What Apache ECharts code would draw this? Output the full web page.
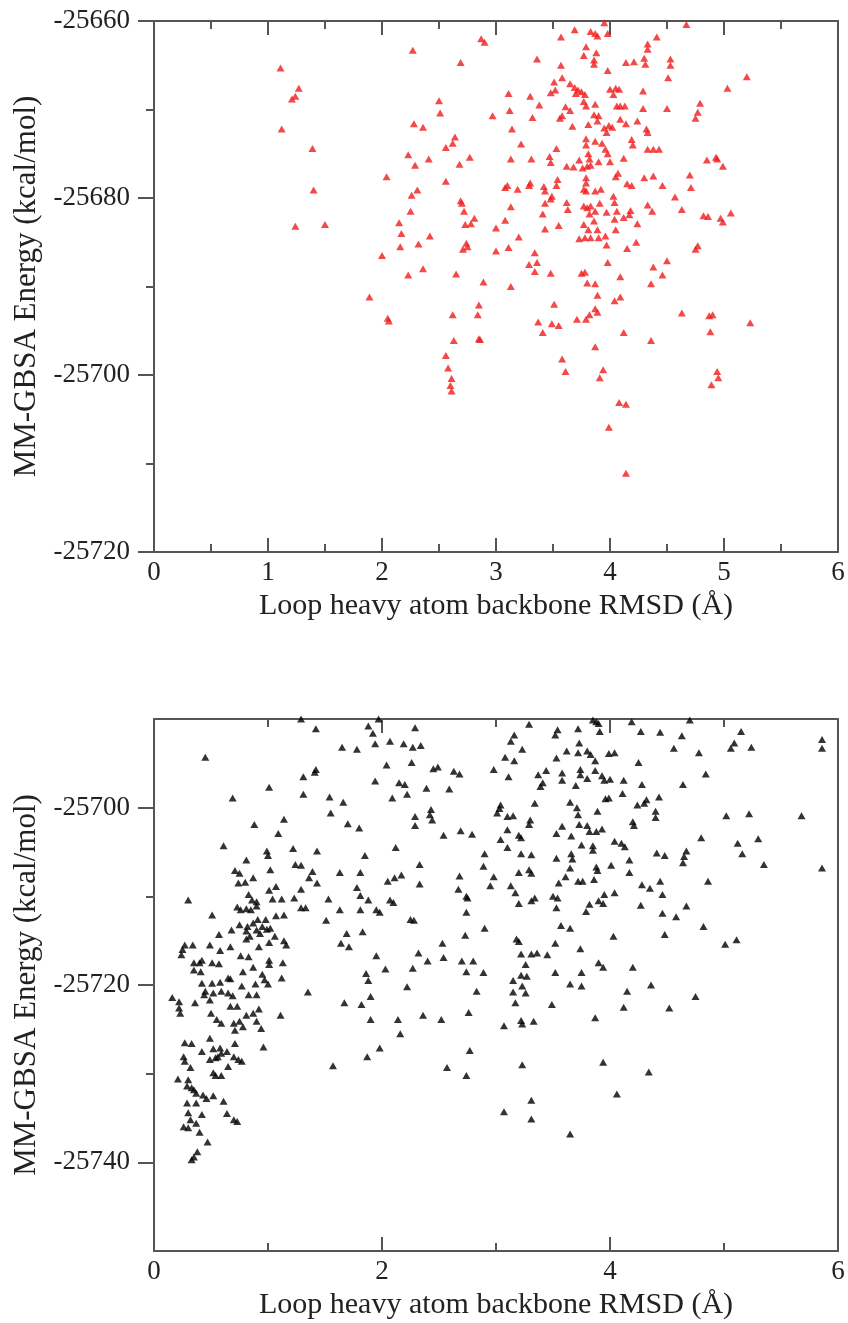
<!DOCTYPE html>
<html>
<head>
<meta charset="utf-8">
<script src="https://cdn.jsdelivr.net/npm/echarts@6/dist/echarts.min.js"></script>
<style>
html,body{margin:0;padding:0;background:#fff;}
#chart{width:848px;height:1323px;}
</style>
</head>
<body>
<div id="chart"></div>
<script>
var xTitle = 'Loop heavy atom backbone RMSD (Å)';
var yTitle = 'MM-GBSA Energy (kcal/mol)';

var topXMajor = [0, 1, 2, 3, 4, 5, 6];
var topYMajor = [-25720, -25700, -25680, -25660];
var bottomXMajor = [0, 2, 4, 6];
var bottomYMajor = [-25740, -25720, -25700];
var bottomYMinor = [-25730, -25710];

var topData = [
[1.11,-25665.3],[1.27,-25667.6],[1.24,-25668.5],[1.21,-25668.8],[1.12,-25672.2],[1.39,-25674.4],[1.40,-25679.1],[1.24,-25683.2],[1.50,-25683.0],
[2.27,-25663.3],[2.28,-25671.6],[2.36,-25672.0],[2.23,-25675.1],[2.29,-25676.3],[2.04,-25677.6],[2.31,-25679.1],[2.26,-25679.7],[2.25,-25681.5],[2.15,-25682.8],[2.17,-25684.0],[2.16,-25685.5],[2.32,-25685.2],[2.00,-25686.5],[2.36,-25688.0],[2.23,-25688.7],[1.89,-25691.2],[2.05,-25693.6],[2.06,-25693.9],
[3.95,-25660.2],[4.67,-25660.4],[3.69,-25661.0],[3.83,-25661.2],[3.87,-25661.4],[3.89,-25661.7],[3.98,-25661.4],[4.41,-25661.8],[3.57,-25661.8],[2.87,-25662.0],[2.90,-25662.4],[3.79,-25662.9],[4.33,-25662.6],[4.33,-25663.2],
[3.77,-25663.9],[3.88,-25663.6],[3.86,-25664.4],[3.86,-25664.9],[3.36,-25664.3],[3.57,-25665.0],[2.69,-25664.7],[4.14,-25664.7],[4.21,-25664.6],[4.30,-25664.2],[4.31,-25664.9],[4.53,-25664.3],[4.53,-25665.0],
[3.98,-25665.6],[3.58,-25666.4],[4.51,-25666.4],[5.20,-25666.3],
[3.51,-25666.9],[3.48,-25668.1],[3.52,-25667.8],[3.65,-25667.1],[3.69,-25667.5],[3.72,-25667.8],[3.75,-25668.0],[3.78,-25668.3],[3.70,-25668.2],
[4.00,-25667.7],[4.05,-25667.6],[4.08,-25667.7],[4.03,-25668.3],[4.29,-25667.9],[5.03,-25667.6],[3.11,-25668.2],[3.30,-25668.5],[2.50,-25669.0],[2.51,-25670.4],
[3.77,-25669.1],[3.79,-25669.6],[3.87,-25669.4],[3.61,-25669.7],[3.65,-25670.1],[4.06,-25669.6],[4.09,-25669.6],[4.13,-25669.6],[4.29,-25669.9],[4.50,-25669.9],[4.79,-25669.3],[4.77,-25670.3],[3.38,-25669.5],
[2.97,-25670.7],[3.12,-25670.1],[3.32,-25670.9],[3.56,-25671.0],[3.58,-25670.7],[3.86,-25670.6],[3.90,-25670.7],[3.89,-25671.3],[4.09,-25671.1],[4.24,-25671.3],[4.75,-25671.0],
[3.14,-25672.2],[3.67,-25671.9],[3.81,-25671.7],[3.95,-25672.1],[3.99,-25671.8],[4.02,-25672.0],[3.97,-25672.6],[4.14,-25671.6],[4.32,-25672.2],[4.33,-25672.6],
[2.64,-25673.1],[2.62,-25673.8],[2.56,-25674.3],[3.22,-25673.9],[3.53,-25674.4],[3.79,-25673.3],[3.79,-25674.0],[3.87,-25673.6],[3.93,-25673.8],[3.96,-25674.5],[4.19,-25673.4],[4.20,-25674.0],[4.33,-25674.5],[4.38,-25674.5],[4.43,-25674.5],
[2.41,-25675.6],[2.68,-25676.2],[2.77,-25675.4],[3.13,-25675.6],[3.31,-25675.6],[3.47,-25675.3],[3.48,-25676.0],[3.81,-25675.0],[3.82,-25675.6],[3.73,-25675.7],[3.90,-25675.9],[3.98,-25675.0],[4.00,-25675.9],[4.12,-25675.5],[3.62,-25676.4],[3.68,-25676.5],[3.76,-25676.6],[3.80,-25676.4],[3.83,-25676.3],[4.85,-25675.7],[4.93,-25675.4],[4.94,-25675.6],[4.99,-25676.4],
[2.56,-25678.1],[4.05,-25677.6],[4.07,-25677.2],[3.79,-25677.7],[3.79,-25678.3],[4.15,-25678.4],[4.19,-25678.6],[4.30,-25677.7],[4.38,-25677.5],[4.46,-25678.6],[4.70,-25677.4],[4.71,-25678.8],[3.08,-25678.8],[3.10,-25678.6],[3.19,-25679.0],[3.29,-25678.6],[3.30,-25678.3],[3.42,-25678.7],[3.43,-25679.2],[3.53,-25678.6],[3.54,-25677.9],[3.77,-25679.0],[3.79,-25679.2],[3.87,-25679.2],[3.92,-25679.0],
[2.69,-25680.3],[2.70,-25680.6],[2.72,-25681.5],[3.13,-25681.0],[3.49,-25679.8],[3.48,-25680.1],[3.43,-25680.6],[3.41,-25681.8],[3.62,-25680.5],[3.63,-25681.3],[3.77,-25680.9],[3.80,-25681.1],[3.83,-25680.9],[3.87,-25681.5],[3.82,-25681.8],[3.91,-25680.6],[3.97,-25681.6],[4.03,-25679.8],[4.04,-25680.5],[4.06,-25681.5],[4.18,-25681.4],[4.17,-25681.9],[4.12,-25682.2],[4.33,-25680.8],[4.37,-25681.5],[4.57,-25679.9],[4.63,-25681.3],
[2.81,-25682.3],[2.73,-25683.0],[2.78,-25682.9],[3.08,-25682.5],[3.00,-25683.4],[3.43,-25683.5],[3.55,-25683.1],[3.77,-25683.0],[3.86,-25682.6],[3.81,-25683.6],[3.89,-25683.6],[4.04,-25682.4],[4.05,-25683.6],[4.24,-25682.9],[4.82,-25682.0],[4.86,-25682.1],[4.97,-25682.3],[4.99,-25682.7],[5.06,-25681.7],
[2.42,-25684.3],[3.20,-25684.4],[3.73,-25684.6],[3.78,-25684.5],[3.83,-25684.5],[3.90,-25684.5],[3.96,-25684.3],[3.97,-25685.3],[4.15,-25685.7],[4.23,-25685.0],[2.71,-25685.8],[2.75,-25685.5],[2.74,-25685.1],[3.00,-25686.0],[3.11,-25685.6],[3.34,-25686.2],[4.77,-25685.4],[4.75,-25685.8],
[3.29,-25687.5],[3.36,-25687.3],[3.34,-25688.3],[3.48,-25688.5],[2.65,-25688.6],[3.75,-25688.5],[3.78,-25688.4],[3.98,-25687.3],[4.09,-25688.9],[4.38,-25687.8],[4.50,-25687.1],[4.46,-25688.7],
[2.89,-25689.5],[3.13,-25690.0],[3.80,-25689.6],[3.87,-25689.7],[4.36,-25689.7],[3.89,-25691.0],
[2.85,-25692.1],[2.84,-25693.2],[2.62,-25693.2],[3.51,-25692.0],[4.04,-25691.6],[4.09,-25691.2],[3.87,-25692.5],[3.89,-25692.9],[3.82,-25693.2],[3.79,-25693.7],[3.71,-25693.7],[3.37,-25694.0],[3.49,-25694.2],[3.55,-25694.4],[4.63,-25693.0],[4.87,-25693.3],[4.90,-25693.2],[5.23,-25694.1],
[2.63,-25696.1],[2.85,-25695.9],[2.86,-25696.0],[3.41,-25695.2],[4.12,-25695.2],[4.36,-25696.1],[4.88,-25695.1],[3.87,-25696.8],[2.56,-25697.8],[2.58,-25699.2],[2.61,-25700.4],[2.60,-25701.2],[2.61,-25701.8],[3.58,-25698.2],[3.61,-25699.6],[3.94,-25699.4],[3.91,-25700.3],[4.94,-25699.6],[4.95,-25700.3],[4.89,-25701.1],[4.08,-25703.1],[4.14,-25703.3],[3.99,-25705.9],[4.14,-25711.1]
];

var bottomData = [
[1.29,-25690.0],[1.42,-25691.1],[1.88,-25690.8],[1.92,-25691.6],[1.97,-25690.0],[2.29,-25691.0],
[2.07,-25692.5],[1.94,-25692.8],[1.65,-25693.2],[1.78,-25693.4],[2.19,-25692.8],[2.27,-25693.2],[2.34,-25693.0],[0.45,-25694.3],
[2.04,-25695.2],[2.26,-25694.9],[1.42,-25695.7],[1.41,-25696.0],[1.31,-25696.5],[1.94,-25697.0],[2.15,-25697.2],[2.20,-25697.4],
[1.01,-25697.7],[0.69,-25698.9],[1.31,-25698.5],[1.54,-25698.8],[1.66,-25699.4],[2.09,-25698.9],[2.22,-25698.5],
[1.55,-25700.6],[2.29,-25701.0],[2.29,-25702.0],[0.88,-25701.9],[1.14,-25701.3],[1.70,-25701.8],[1.80,-25702.3],[1.09,-25702.9],
[0.61,-25704.3],[0.99,-25704.9],[1.00,-25705.4],[1.22,-25704.6],[1.43,-25704.9],[1.85,-25705.4],[2.12,-25704.5],[0.81,-25705.9],
[1.24,-25706.4],[1.29,-25706.5],[2.33,-25706.4],[0.71,-25707.1],[0.75,-25707.4],[1.02,-25707.0],[1.39,-25707.2],[1.63,-25707.3],[1.81,-25707.3],[0.74,-25708.5],[0.80,-25708.4],[0.87,-25707.9],[1.36,-25707.9],[1.43,-25708.5],[2.05,-25708.3],[2.11,-25707.9],[2.17,-25707.6],[2.33,-25708.6],[1.78,-25709.0],
[1.01,-25709.3],[1.07,-25708.9],[1.29,-25709.2],[0.30,-25710.4],[0.83,-25709.8],[0.86,-25710.4],[0.90,-25710.6],[1.04,-25710.3],[1.12,-25710.3],[1.23,-25710.2],[1.53,-25710.3],[1.81,-25709.9],[1.88,-25710.4],[2.07,-25710.4],[2.10,-25710.7],
[0.73,-25711.2],[0.76,-25711.5],[0.81,-25711.4],[0.85,-25711.5],[0.90,-25711.1],[1.29,-25711.3],[1.33,-25711.3],[1.63,-25711.5],[1.81,-25711.5],[1.95,-25711.5],[1.98,-25711.8],[0.51,-25712.1],[1.07,-25712.2],[1.14,-25712.1],
[0.91,-25712.6],[0.98,-25712.6],[0.87,-25713.0],[1.51,-25712.7],[2.25,-25712.6],[2.28,-25712.7],[0.75,-25713.2],[0.82,-25713.4],[0.95,-25713.4],[0.99,-25713.7],[0.68,-25713.8],[0.81,-25713.9],[0.90,-25713.8],[0.93,-25714.2],[1.02,-25713.6],[1.06,-25714.5],[0.57,-25714.3],[0.84,-25714.5],[1.69,-25714.2],[1.83,-25714.0],
[0.27,-25715.5],[0.34,-25715.5],[0.49,-25715.5],[0.67,-25715.7],[0.81,-25714.8],[0.92,-25715.7],[1.01,-25715.2],[1.16,-25715.5],[1.14,-25715.0],[0.25,-25716.0],[0.24,-25716.6],[0.58,-25716.1],[1.64,-25715.3],[1.71,-25715.7],[2.32,-25716.4],
[0.76,-25716.7],[0.83,-25716.8],[0.35,-25717.5],[0.40,-25717.5],[0.42,-25717.2],[0.51,-25717.5],[0.57,-25717.6],[1.01,-25717.2],[1.01,-25717.7],[1.13,-25717.5],[1.95,-25716.7],[2.03,-25718.2],[2.27,-25718.1],[0.35,-25718.3],[0.41,-25718.5],[0.87,-25718.0],[0.78,-25718.5],
[1.86,-25718.7],[1.88,-25719.5],[0.95,-25718.8],[0.97,-25719.4],[1.00,-25719.9],[1.12,-25719.2],[0.67,-25719.3],[0.42,-25719.8],[0.51,-25719.8],[0.58,-25719.7],[0.65,-25719.2],[0.77,-25720.1],[0.89,-25719.9],[2.22,-25720.2],[1.35,-25720.8],
[0.45,-25720.7],[0.44,-25721.1],[0.52,-25720.9],[0.59,-25720.7],[0.65,-25720.9],[0.69,-25721.2],[0.83,-25721.1],[0.90,-25721.1],[0.16,-25721.4],[0.49,-25721.7],[1.90,-25721.3],[1.67,-25722.0],[1.82,-25722.2],[0.22,-25721.9],[0.36,-25722.0],
[0.22,-25722.6],[0.23,-25723.2],[0.50,-25723.2],[0.67,-25722.4],[0.73,-25722.4],[0.81,-25723.4],[0.87,-25723.2],[0.92,-25722.7],[1.11,-25723.4],[0.55,-25723.9],[0.59,-25724.3],[0.70,-25724.3],[0.75,-25724.1],[0.78,-25724.7],[0.71,-25725.1],[0.90,-25724.1],[0.94,-25724.9],
[0.27,-25726.5],[0.33,-25726.6],[0.42,-25727.5],[0.49,-25726.0],[0.52,-25727.2],[0.49,-25728.4],[0.54,-25728.2],[0.56,-25728.1],[0.58,-25727.1],[0.59,-25727.7],[0.64,-25727.5],[0.65,-25729.2],[0.71,-25726.6],[0.74,-25728.4],[0.70,-25728.1],[0.77,-25728.6],[0.96,-25727.0],
[0.26,-25728.1],[0.27,-25728.6],[0.32,-25729.3],[0.52,-25729.9],[0.54,-25730.2],[0.59,-25730.2],[0.21,-25730.6],[0.30,-25730.7],[0.29,-25731.4],[0.33,-25731.6],[0.35,-25731.8],[0.37,-25732.2],[0.43,-25732.4],[0.46,-25732.8],[0.52,-25732.5],[0.61,-25733.1],[0.29,-25733.3],[0.37,-25733.3],
[0.30,-25734.4],[0.42,-25734.6],[0.64,-25734.5],[0.70,-25735.2],[0.73,-25735.4],[0.26,-25736.0],[0.30,-25736.1],[0.32,-25735.2],[0.37,-25735.6],[0.40,-25736.6],[0.47,-25737.7],[0.38,-25738.8],[0.33,-25739.7],[0.35,-25739.4],
[1.57,-25729.1],[1.87,-25728.1],[1.98,-25727.1],[2.16,-25725.5],[2.14,-25723.9],[1.90,-25723.9],[2.36,-25723.4],
[3.29,-25690.6],[3.85,-25690.1],[3.88,-25690.3],[3.90,-25690.5],[3.91,-25691.4],[4.19,-25690.3],[4.27,-25691.4],[4.44,-25691.5],[4.70,-25690.1],[3.72,-25691.1],[3.54,-25691.2],[3.52,-25691.8],[5.15,-25691.4],[3.16,-25691.8],[4.63,-25691.9],[5.86,-25692.3],[5.86,-25693.3],
[3.13,-25692.5],[3.23,-25693.4],[3.73,-25692.7],[3.72,-25693.8],[3.80,-25693.6],[3.83,-25694.0],[3.62,-25693.6],[3.53,-25694.4],[3.99,-25693.9],[4.04,-25693.8],[4.56,-25693.3],[4.78,-25693.8],[5.06,-25693.3],[5.09,-25692.7],[5.24,-25693.2],[3.08,-25694.3],[3.16,-25694.7],[3.87,-25694.7],[4.25,-25694.9],
[2.49,-25695.4],[2.45,-25695.6],[2.63,-25695.9],[2.68,-25696.2],[2.98,-25695.7],[3.11,-25696.5],[3.37,-25696.3],[3.44,-25695.8],[3.58,-25696.1],[3.58,-25696.9],[3.74,-25695.7],[3.74,-25696.3],[3.80,-25696.7],[3.87,-25695.8],[3.93,-25696.4],[3.95,-25696.9],[4.00,-25696.8],[4.12,-25696.9],[4.84,-25696.2],
[2.39,-25697.8],[2.59,-25697.9],[3.39,-25697.6],[3.41,-25697.2],[3.70,-25697.5],[4.11,-25698.4],[4.28,-25697.4],[4.64,-25697.4],[3.96,-25699.0],[3.99,-25698.9],[4.43,-25698.8],
[3.34,-25699.5],[3.65,-25699.4],[4.24,-25699.7],[4.30,-25699.5],[4.32,-25699.1],[3.04,-25699.7],[3.03,-25700.1],[2.43,-25700.2],[2.42,-25700.8],[2.44,-25701.4],[3.01,-25700.6],[3.10,-25701.0],[3.15,-25700.9],[3.71,-25700.0],[3.72,-25700.8],[3.89,-25700.4],[4.40,-25700.4],[4.40,-25701.1],[5.02,-25700.9],[5.22,-25700.7],[5.68,-25700.9],
[3.30,-25701.4],[3.29,-25701.9],[3.10,-25702.5],[3.20,-25703.1],[3.22,-25703.4],[3.58,-25702.1],[3.53,-25702.9],[3.66,-25703.2],[3.73,-25701.9],[3.80,-25702.0],[3.82,-25702.7],[3.88,-25702.7],[3.93,-25702.4],[4.20,-25701.6],[4.21,-25702.0],[2.54,-25703.1],[2.69,-25702.6],[2.79,-25703.0],[4.80,-25703.4],[5.30,-25703.5],
[3.04,-25703.6],[3.10,-25704.5],[4.04,-25703.8],[4.10,-25704.0],[4.13,-25704.4],[3.75,-25704.2],[3.85,-25704.3],[3.85,-25704.8],[5.12,-25704.0],[5.16,-25705.2],[2.90,-25705.2],[3.22,-25705.2],[3.31,-25705.3],[3.66,-25705.2],[3.67,-25705.8],[4.41,-25705.1],[4.48,-25705.4],[4.67,-25704.9],[4.65,-25705.5],[4.64,-25706.2],
[2.89,-25706.6],[3.53,-25705.7],[4.17,-25705.9],[4.01,-25706.5],[3.88,-25706.7],[3.89,-25707.1],[3.65,-25706.8],[5.35,-25706.4],[5.86,-25706.8],[2.68,-25707.7],[2.98,-25707.8],[3.20,-25707.3],[3.29,-25707.0],[3.31,-25707.4],[3.55,-25708.5],[3.61,-25707.8],[3.72,-25708.3],[3.76,-25708.3],[3.86,-25708.1],[4.17,-25707.3],[4.86,-25708.3],
[2.67,-25709.2],[2.95,-25708.8],[3.13,-25708.8],[2.75,-25710.2],[2.74,-25710.0],[3.17,-25709.6],[3.20,-25710.8],[3.31,-25710.5],[3.34,-25710.2],[3.50,-25710.0],[3.54,-25710.2],[3.95,-25709.8],[4.04,-25709.6],[3.90,-25710.5],[3.94,-25710.8],[4.28,-25708.7],[4.35,-25709.1],[4.44,-25708.3],[4.46,-25709.8],
[2.74,-25711.8],[3.53,-25711.3],[3.82,-25710.9],[3.79,-25711.7],[4.27,-25711.0],[4.46,-25711.9],[4.58,-25712.3],[4.67,-25711.1],[2.90,-25713.6],[2.73,-25714.4],[3.57,-25713.3],[3.65,-25713.6],[4.03,-25714.5],[4.48,-25714.3],[4.82,-25713.4],[5.01,-25715.4],[5.11,-25714.9],
[2.53,-25715.3],[3.20,-25715.1],[3.18,-25714.8],[3.52,-25715.3],[3.74,-25715.9],[2.54,-25716.9],[2.40,-25717.3],[2.70,-25717.3],[2.80,-25717.3],[2.74,-25718.5],[2.89,-25718.6],[3.22,-25716.5],[3.31,-25716.5],[3.36,-25716.4],[3.45,-25716.6],[3.90,-25717.5],[3.94,-25718.0],[4.20,-25718.0],
[3.26,-25717.7],[3.22,-25718.9],[3.27,-25719.0],[3.52,-25718.6],[3.75,-25718.6],[3.15,-25719.5],[3.23,-25720.1],[3.26,-25720.9],[3.15,-25720.8],[2.83,-25720.7],[3.65,-25719.9],[3.75,-25720.1],[4.15,-25720.7],[4.36,-25720.0],[4.75,-25721.3],[3.17,-25722.0],[3.49,-25722.2],[4.12,-25722.5],[4.52,-25722.6],
[2.52,-25723.9],[2.76,-25723.1],[3.07,-25724.6],[3.22,-25724.0],[3.23,-25724.4],[3.33,-25724.1],[3.87,-25723.7],[2.77,-25727.4],[2.57,-25729.3],[2.74,-25730.2],[3.23,-25729.0],[3.94,-25728.7],[4.34,-25729.8],[4.06,-25732.3],[3.31,-25733.0],[3.07,-25734.3],[3.31,-25735.1],[3.65,-25736.8]
];

var FONT = 'Liberation Serif';
var LINE = '#555';
var TEXT = '#222';

function lineStyle() { return { color: LINE, width: 2 }; }

function xMain(grid, max, interval, majors, named) {
  return {
    type: 'value', gridIndex: grid, position: 'bottom', min: 0, max: max,
    axisLine: { show: true, onZero: false, lineStyle: lineStyle() },
    axisTick: { show: true, inside: true, length: 14, customValues: majors, lineStyle: lineStyle() },
    minorTick: { show: true, splitNumber: 2, length: 8, lineStyle: lineStyle() },
    axisLabel: { show: true, customValues: majors, margin: 7, fontFamily: FONT, fontSize: 27, color: TEXT,
      formatter: function (v) { return String(v); } },
    splitLine: { show: false }, minorSplitLine: { show: false },
    interval: interval,
    name: named ? xTitle : '', nameLocation: 'middle', nameGap: 39,
    nameTextStyle: { fontFamily: FONT, fontSize: 30, color: TEXT }
  };
}
function xTop(grid, max, interval, majors) {
  return {
    type: 'value', gridIndex: grid, position: 'top', min: 0, max: max, interval: interval,
    axisLine: { show: true, onZero: false, lineStyle: lineStyle() },
    axisTick: { show: true, inside: true, length: 14, customValues: majors, lineStyle: lineStyle() },
    minorTick: { show: true, splitNumber: 2, length: 8, lineStyle: lineStyle() },
    axisLabel: { show: false }, splitLine: { show: false }, minorSplitLine: { show: false }
  };
}
function yLeft(grid, min, max, majors) {
  return {
    type: 'value', gridIndex: grid, position: 'left', min: min, max: max,
    axisLine: { show: true, onZero: false, lineStyle: lineStyle() },
    axisTick: { show: true, inside: false, length: 16, customValues: majors, lineStyle: lineStyle() },
    axisLabel: { show: true, customValues: majors, margin: 24, fontFamily: FONT, fontSize: 27, color: TEXT,
      formatter: function (v) { return String(v); } },
    splitLine: { show: false },
    name: yTitle, nameLocation: 'middle', nameGap: 108,
    nameTextStyle: { fontFamily: FONT, fontSize: 31, color: TEXT }
  };
}
function yMinor(grid, min, max, minors) {
  return {
    type: 'value', gridIndex: grid, position: 'left', min: min, max: max,
    axisLine: { show: false, onZero: false },
    axisTick: { show: true, inside: false, length: 8, customValues: minors, lineStyle: lineStyle() },
    axisLabel: { show: false }, splitLine: { show: false }
  };
}
function yRight(grid, min, max) {
  return {
    type: 'value', gridIndex: grid, position: 'right', min: min, max: max,
    axisLine: { show: true, onZero: false, lineStyle: lineStyle() },
    axisTick: { show: false }, axisLabel: { show: false }, splitLine: { show: false }
  };
}

var chart = echarts.init(document.getElementById('chart'), null, { renderer: 'canvas' });
chart.setOption({
  backgroundColor: '#fff',
  animation: false,
  grid: [
    { left: 154, top: 21, right: 10, height: 531 },
    { left: 154, top: 719, right: 10, height: 532 }
  ],
  xAxis: [
    xMain(0, 6, 1, topXMajor, true),
    xTop(0, 6, 1, topXMajor),
    xMain(1, 6, 2, bottomXMajor, true),
    xTop(1, 6, 2, bottomXMajor)
  ],
  yAxis: [
    yLeft(0, -25720, -25660, topYMajor),
    yMinor(0, -25720, -25660, [-25710, -25690, -25670]),
    yRight(0, -25720, -25660),
    yLeft(1, -25750, -25690, bottomYMajor),
    yMinor(1, -25750, -25690, bottomYMinor),
    yRight(1, -25750, -25690)
  ],
  series: [
    { type: 'scatter', xAxisIndex: 0, yAxisIndex: 0, data: topData, symbol: 'triangle',
      symbolSize: [8, 7], clip: false, silent: true, itemStyle: { color: '#f01c1c' } },
    { type: 'scatter', xAxisIndex: 2, yAxisIndex: 3, data: bottomData, symbol: 'triangle',
      symbolSize: [8, 7], clip: false, silent: true, itemStyle: { color: '#000' } }
  ]
});
</script>
</body>
</html>
